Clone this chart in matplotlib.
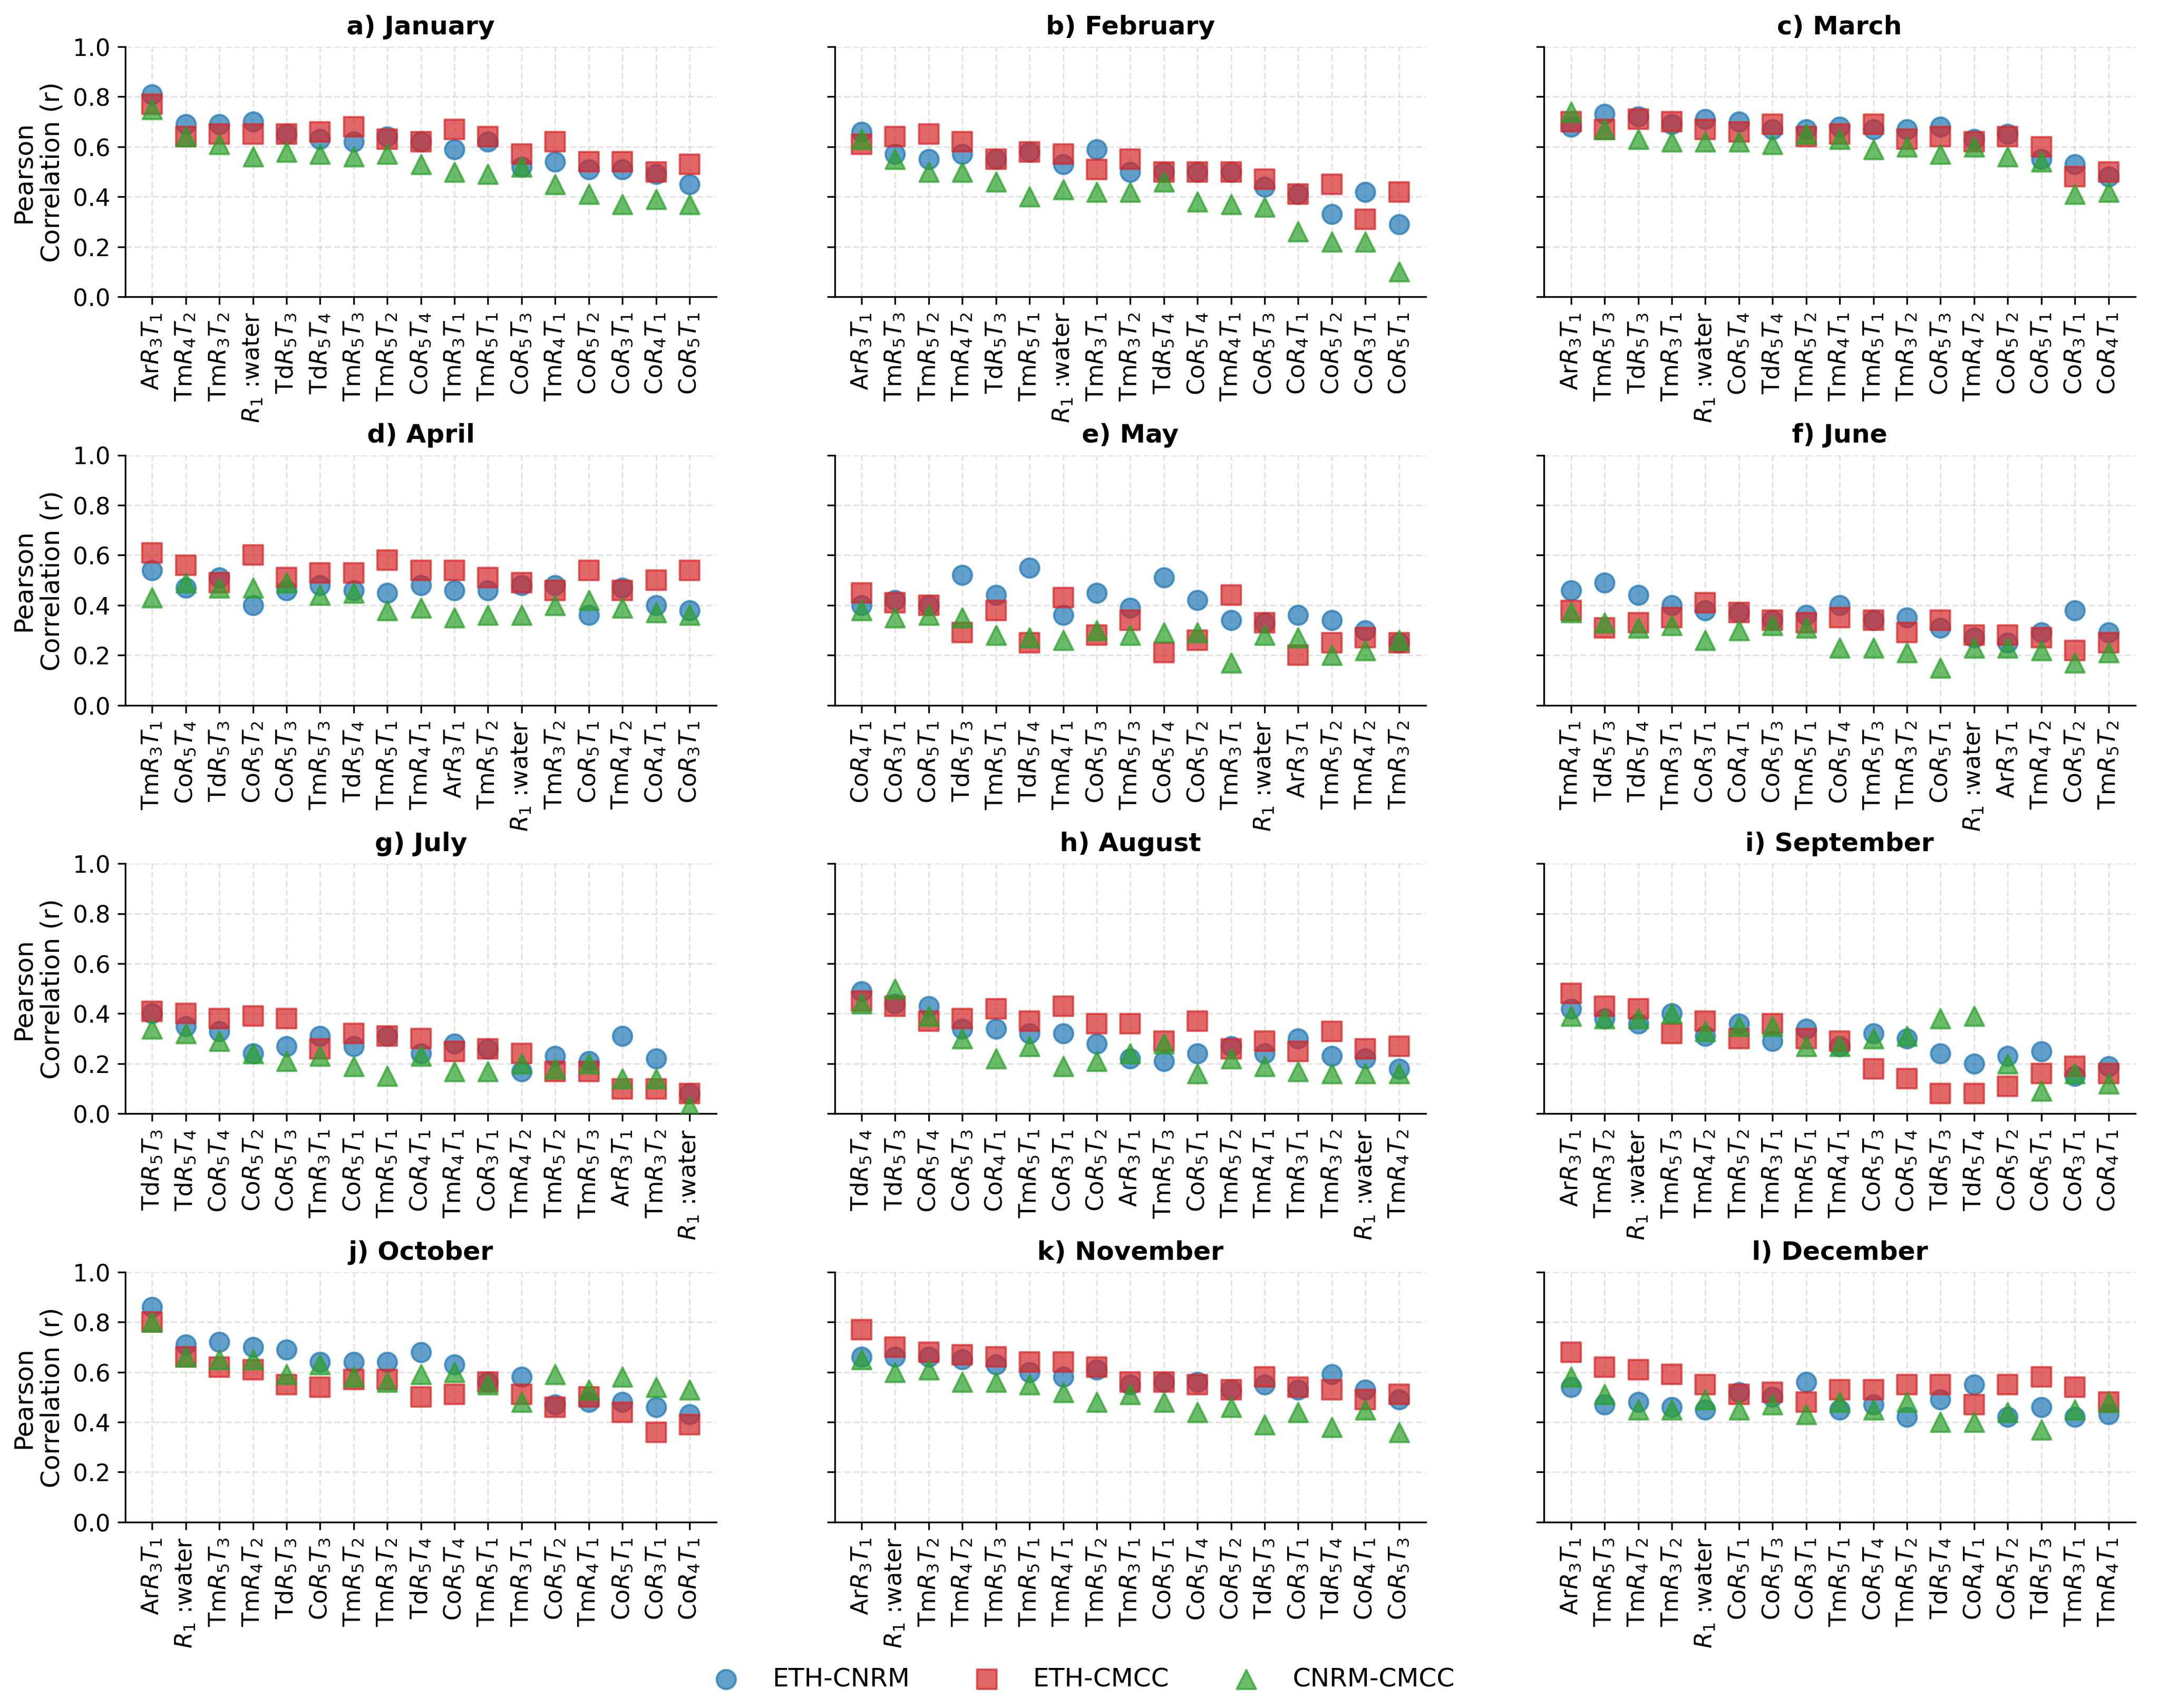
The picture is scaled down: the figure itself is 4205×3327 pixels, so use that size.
import numpy as np
import matplotlib.pyplot as plt

# predictor codes: "Ar31" -> Ar R3 T1, "W" -> R1 :water
jan_labels = ["Ar31", "Tm42", "Tm32", "W", "Td53", "Td54", "Tm53", "Tm52", "Co54",
              "Tm31", "Tm51", "Co53", "Tm41", "Co52", "Co31", "Co41", "Co51"]
jan_eth_cnrm = [0.81, 0.69, 0.69, 0.70, 0.65, 0.63, 0.62, 0.64, 0.62, 0.59, 0.62, 0.52, 0.54, 0.51, 0.51, 0.49, 0.45]
jan_eth_cmcc = [0.77, 0.64, 0.65, 0.65, 0.65, 0.66, 0.68, 0.63, 0.62, 0.67, 0.64, 0.57, 0.62, 0.54, 0.54, 0.50, 0.53]
jan_cnrm_cmcc = [0.75, 0.64, 0.61, 0.56, 0.58, 0.57, 0.56, 0.57, 0.53, 0.50, 0.49, 0.52, 0.45, 0.41, 0.37, 0.39, 0.37]

feb_labels = ["Ar31", "Tm53", "Tm52", "Tm42", "Td53", "Tm51", "W", "Tm31", "Tm32",
              "Td54", "Co54", "Tm41", "Co53", "Co41", "Co52", "Co31", "Co51"]
feb_eth_cnrm = [0.66, 0.57, 0.55, 0.57, 0.55, 0.58, 0.53, 0.59, 0.50, 0.50, 0.50, 0.50, 0.44, 0.41, 0.33, 0.42, 0.29]
feb_eth_cmcc = [0.61, 0.64, 0.65, 0.62, 0.55, 0.58, 0.57, 0.51, 0.55, 0.50, 0.50, 0.50, 0.47, 0.41, 0.45, 0.31, 0.42]
feb_cnrm_cmcc = [0.63, 0.55, 0.50, 0.50, 0.46, 0.40, 0.43, 0.42, 0.42, 0.46, 0.38, 0.37, 0.36, 0.26, 0.22, 0.22, 0.10]

mar_labels = ["Ar31", "Tm53", "Td53", "Tm31", "W", "Co54", "Td54", "Tm52", "Tm41",
              "Tm51", "Tm32", "Co53", "Tm42", "Co52", "Co51", "Co31", "Co41"]
mar_eth_cnrm = [0.68, 0.73, 0.72, 0.69, 0.71, 0.70, 0.67, 0.67, 0.68, 0.67, 0.67, 0.68, 0.63, 0.65, 0.55, 0.53, 0.48]
mar_eth_cmcc = [0.70, 0.67, 0.71, 0.70, 0.67, 0.66, 0.69, 0.64, 0.65, 0.69, 0.63, 0.64, 0.62, 0.64, 0.60, 0.48, 0.50]
mar_cnrm_cmcc = [0.74, 0.67, 0.63, 0.62, 0.62, 0.62, 0.61, 0.65, 0.63, 0.59, 0.60, 0.57, 0.60, 0.56, 0.54, 0.41, 0.42]

apr_labels = ["Tm31", "Co54", "Td53", "Co52", "Co53", "Tm53", "Td54", "Tm51", "Tm41",
              "Ar31", "Tm52", "W", "Tm32", "Co51", "Tm42", "Co41", "Co31"]
apr_eth_cnrm = [0.54, 0.47, 0.51, 0.40, 0.46, 0.48, 0.46, 0.45, 0.48, 0.46, 0.46, 0.48, 0.48, 0.36, 0.47, 0.40, 0.38]
apr_eth_cmcc = [0.61, 0.56, 0.49, 0.60, 0.51, 0.53, 0.53, 0.58, 0.54, 0.54, 0.51, 0.49, 0.46, 0.54, 0.46, 0.50, 0.54]
apr_cnrm_cmcc = [0.43, 0.49, 0.47, 0.47, 0.49, 0.44, 0.45, 0.38, 0.39, 0.35, 0.36, 0.36, 0.40, 0.42, 0.39, 0.37, 0.36]

may_labels = ["Co41", "Co31", "Co51", "Td53", "Tm51", "Td54", "Tm41", "Co53", "Tm53",
              "Co54", "Co52", "Tm31", "W", "Ar31", "Tm52", "Tm42", "Tm32"]
may_eth_cnrm = [0.40, 0.42, 0.40, 0.52, 0.44, 0.55, 0.36, 0.45, 0.39, 0.51, 0.42, 0.34, 0.33, 0.36, 0.34, 0.30, 0.25]
may_eth_cmcc = [0.45, 0.41, 0.40, 0.29, 0.38, 0.25, 0.43, 0.28, 0.34, 0.21, 0.26, 0.44, 0.33, 0.20, 0.25, 0.27, 0.25]
may_cnrm_cmcc = [0.38, 0.35, 0.36, 0.35, 0.28, 0.27, 0.26, 0.30, 0.28, 0.29, 0.29, 0.17, 0.28, 0.27, 0.20, 0.22, 0.26]

jun_labels = ["Tm41", "Td53", "Td54", "Tm31", "Co31", "Co41", "Co53", "Tm51", "Co54",
              "Tm53", "Tm32", "Co51", "W", "Ar31", "Tm42", "Co52", "Tm52"]
jun_eth_cnrm = [0.46, 0.49, 0.44, 0.40, 0.38, 0.37, 0.34, 0.36, 0.40, 0.34, 0.35, 0.31, 0.27, 0.25, 0.29, 0.38, 0.29]
jun_eth_cmcc = [0.38, 0.31, 0.33, 0.35, 0.41, 0.37, 0.34, 0.33, 0.35, 0.34, 0.29, 0.34, 0.28, 0.28, 0.27, 0.22, 0.25]
jun_cnrm_cmcc = [0.37, 0.33, 0.31, 0.32, 0.26, 0.30, 0.32, 0.31, 0.23, 0.23, 0.21, 0.15, 0.23, 0.23, 0.22, 0.17, 0.21]

jul_labels = ["Td53", "Td54", "Co54", "Co52", "Co53", "Tm31", "Co51", "Tm51", "Co41",
              "Tm41", "Co31", "Tm42", "Tm52", "Tm53", "Ar31", "Tm32", "W"]
jul_eth_cnrm = [0.40, 0.35, 0.33, 0.24, 0.27, 0.31, 0.27, 0.31, 0.24, 0.28, 0.26, 0.17, 0.23, 0.21, 0.31, 0.22, 0.08]
jul_eth_cmcc = [0.41, 0.40, 0.38, 0.39, 0.38, 0.26, 0.32, 0.31, 0.30, 0.25, 0.26, 0.24, 0.17, 0.17, 0.10, 0.10, 0.08]
jul_cnrm_cmcc = [0.34, 0.32, 0.29, 0.24, 0.21, 0.23, 0.19, 0.15, 0.23, 0.17, 0.17, 0.20, 0.18, 0.20, 0.14, 0.14, 0.03]

aug_labels = ["Td54", "Td53", "Co54", "Co53", "Co41", "Tm51", "Co31", "Co52", "Ar31",
              "Tm53", "Co51", "Tm52", "Tm41", "Tm31", "Tm32", "W", "Tm42"]
aug_eth_cnrm = [0.49, 0.44, 0.43, 0.34, 0.34, 0.32, 0.32, 0.28, 0.22, 0.21, 0.24, 0.27, 0.24, 0.30, 0.23, 0.22, 0.18]
aug_eth_cmcc = [0.45, 0.43, 0.37, 0.38, 0.42, 0.37, 0.43, 0.36, 0.36, 0.29, 0.37, 0.26, 0.29, 0.25, 0.33, 0.26, 0.27]
aug_cnrm_cmcc = [0.44, 0.50, 0.39, 0.30, 0.22, 0.27, 0.19, 0.21, 0.24, 0.28, 0.16, 0.22, 0.19, 0.17, 0.16, 0.16, 0.16]

sep_labels = ["Ar31", "Tm32", "W", "Tm53", "Tm42", "Tm52", "Tm31", "Tm51", "Tm41",
              "Co53", "Co54", "Td53", "Td54", "Co52", "Co51", "Co31", "Co41"]
sep_eth_cnrm = [0.42, 0.38, 0.36, 0.40, 0.31, 0.36, 0.29, 0.34, 0.27, 0.32, 0.30, 0.24, 0.20, 0.23, 0.25, 0.15, 0.19]
sep_eth_cmcc = [0.48, 0.43, 0.42, 0.32, 0.37, 0.30, 0.36, 0.30, 0.29, 0.18, 0.14, 0.08, 0.08, 0.11, 0.16, 0.19, 0.16]
sep_cnrm_cmcc = [0.39, 0.38, 0.38, 0.40, 0.33, 0.35, 0.35, 0.27, 0.27, 0.30, 0.31, 0.38, 0.39, 0.20, 0.09, 0.16, 0.12]

oct_labels = ["Ar31", "W", "Tm53", "Tm42", "Td53", "Co53", "Tm52", "Tm32", "Td54",
              "Co54", "Tm51", "Tm31", "Co52", "Tm41", "Co51", "Co31", "Co41"]
oct_eth_cnrm = [0.86, 0.71, 0.72, 0.70, 0.69, 0.64, 0.64, 0.64, 0.68, 0.63, 0.56, 0.58, 0.47, 0.48, 0.48, 0.46, 0.43]
oct_eth_cmcc = [0.80, 0.66, 0.62, 0.61, 0.55, 0.54, 0.57, 0.57, 0.50, 0.51, 0.56, 0.51, 0.46, 0.50, 0.44, 0.36, 0.39]
oct_cnrm_cmcc = [0.80, 0.66, 0.65, 0.65, 0.59, 0.63, 0.58, 0.56, 0.59, 0.60, 0.55, 0.48, 0.59, 0.53, 0.58, 0.54, 0.53]

nov_labels = ["Ar31", "W", "Tm32", "Tm42", "Tm53", "Tm51", "Tm41", "Tm52", "Tm31",
              "Co51", "Co54", "Co52", "Td53", "Co31", "Td54", "Co41", "Co53"]
nov_eth_cnrm = [0.66, 0.66, 0.66, 0.65, 0.63, 0.60, 0.58, 0.61, 0.55, 0.56, 0.56, 0.53, 0.55, 0.53, 0.59, 0.53, 0.49]
nov_eth_cmcc = [0.77, 0.70, 0.68, 0.67, 0.66, 0.64, 0.64, 0.62, 0.56, 0.56, 0.55, 0.53, 0.58, 0.54, 0.53, 0.49, 0.51]
nov_cnrm_cmcc = [0.65, 0.60, 0.61, 0.56, 0.56, 0.55, 0.52, 0.48, 0.51, 0.48, 0.44, 0.46, 0.39, 0.44, 0.38, 0.45, 0.36]

dec_labels = ["Ar31", "Tm53", "Tm42", "Tm32", "W", "Co51", "Co53", "Co31", "Tm51",
              "Co54", "Tm52", "Td54", "Co41", "Co52", "Td53", "Tm31", "Tm41"]
dec_eth_cnrm = [0.54, 0.47, 0.48, 0.46, 0.45, 0.52, 0.50, 0.56, 0.45, 0.47, 0.42, 0.49, 0.55, 0.42, 0.46, 0.42, 0.43]
dec_eth_cmcc = [0.68, 0.62, 0.61, 0.59, 0.55, 0.51, 0.52, 0.48, 0.53, 0.53, 0.55, 0.55, 0.47, 0.55, 0.58, 0.54, 0.48]
dec_cnrm_cmcc = [0.58, 0.51, 0.45, 0.45, 0.49, 0.45, 0.47, 0.43, 0.48, 0.45, 0.48, 0.40, 0.40, 0.44, 0.37, 0.45, 0.48]

titles = ["a) January", "b) February", "c) March", "d) April", "e) May", "f) June",
          "g) July", "h) August", "i) September", "j) October", "k) November", "l) December"]
months = [
    (jan_labels, jan_eth_cnrm, jan_eth_cmcc, jan_cnrm_cmcc),
    (feb_labels, feb_eth_cnrm, feb_eth_cmcc, feb_cnrm_cmcc),
    (mar_labels, mar_eth_cnrm, mar_eth_cmcc, mar_cnrm_cmcc),
    (apr_labels, apr_eth_cnrm, apr_eth_cmcc, apr_cnrm_cmcc),
    (may_labels, may_eth_cnrm, may_eth_cmcc, may_cnrm_cmcc),
    (jun_labels, jun_eth_cnrm, jun_eth_cmcc, jun_cnrm_cmcc),
    (jul_labels, jul_eth_cnrm, jul_eth_cmcc, jul_cnrm_cmcc),
    (aug_labels, aug_eth_cnrm, aug_eth_cmcc, aug_cnrm_cmcc),
    (sep_labels, sep_eth_cnrm, sep_eth_cmcc, sep_cnrm_cmcc),
    (oct_labels, oct_eth_cnrm, oct_eth_cmcc, oct_cnrm_cmcc),
    (nov_labels, nov_eth_cnrm, nov_eth_cmcc, nov_cnrm_cmcc),
    (dec_labels, dec_eth_cnrm, dec_eth_cmcc, dec_cnrm_cmcc),
]


def tick_label(code):
    if code == "W":
        return r"$R_1$ :water"
    return code[:2] + r"$R_{%s}T_{%s}$" % (code[2], code[3])


series = [("ETH-CNRM", "o", "tab:blue"),
          ("ETH-CMCC", "s", "tab:red"),
          ("CNRM-CMCC", "^", "tab:green")]

fig, axes = plt.subplots(4, 3, figsize=(14.017, 11.093), dpi=300, sharey=True)
fig.subplots_adjust(left=0.058, right=0.989, top=0.9724, bottom=0.1088,
                    wspace=0.2, hspace=0.633)

for i, ax in enumerate(axes.flat):
    labels, a, b, c = months[i]
    x = np.arange(len(labels))
    for (name, mk, col), vals in zip(series, (a, b, c)):
        ax.scatter(x, vals, marker=mk, s=80, color=col, alpha=0.7,
                   edgecolors=col, linewidths=1, label=name, zorder=3)
    ax.set_xticks(x)
    ax.set_xticklabels([tick_label(l) for l in labels], rotation=90, fontsize=11)
    ax.set_ylim(0, 1)
    ax.set_yticks([0, 0.2, 0.4, 0.6, 0.8, 1.0])
    ax.tick_params(axis="y", labelsize=11)
    ax.grid(True, linestyle="--", color="lightgray", alpha=0.6, linewidth=0.8)
    ax.spines["top"].set_visible(False)
    ax.spines["right"].set_visible(False)
    ax.set_title(titles[i], fontsize=12, fontweight="bold")
    if i % 3 == 0:
        ax.set_ylabel("Pearson\nCorrelation (r)", fontsize=12)

handles, names = axes[0, 0].get_legend_handles_labels()
fig.legend(handles, names, loc="center", bbox_to_anchor=(0.499, 0.017), ncol=3,
           frameon=False, fontsize=12, columnspacing=2.0)

fig.savefig("out.png", dpi=300)
